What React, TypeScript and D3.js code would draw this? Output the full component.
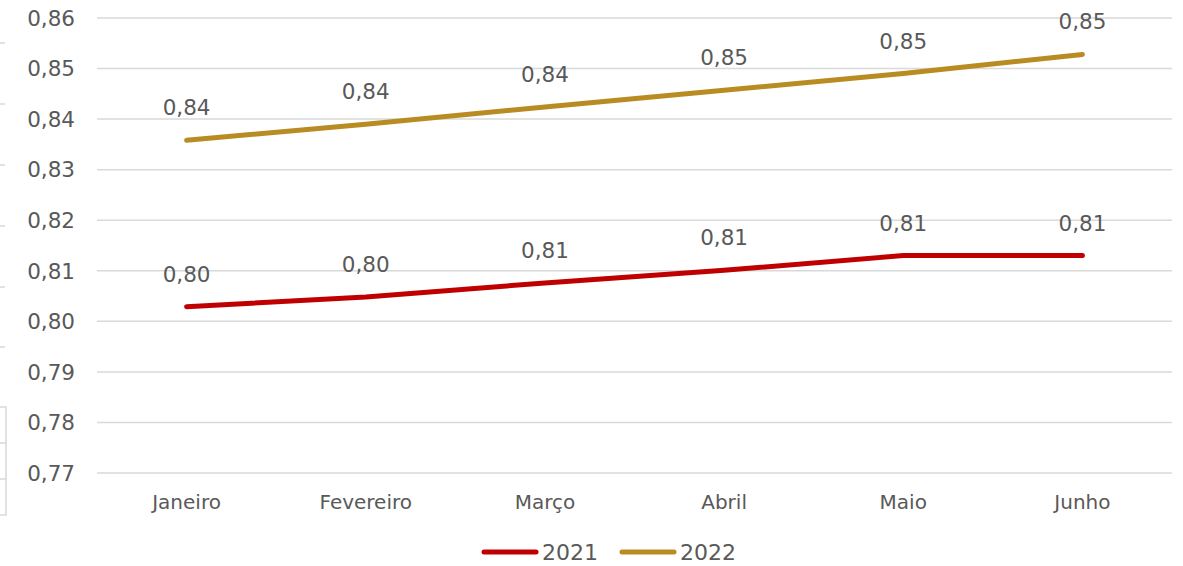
import React, { useEffect, useRef } from 'react';
import * as d3 from 'd3';

const months = ['Janeiro', 'Fevereiro', 'Março', 'Abril', 'Maio', 'Junho'];
const values2021 = [0.8029, 0.8048, 0.8076, 0.8101, 0.813, 0.813];
const values2022 = [0.8358, 0.839, 0.8424, 0.8457, 0.849, 0.8528];
const yTicks = [0.77, 0.78, 0.79, 0.8, 0.81, 0.82, 0.83, 0.84, 0.85, 0.86];
const seriesNames = ['2021', '2022'];
// stray marks from the neighbouring element cut off at the left edge
const edgeTicks = [43, 104, 165, 226, 287, 347];
const edgeBox = [407, 443, 479, 515];

const W = 1183;
const H = 566;

const App = () => {
    const ref = useRef<SVGSVGElement | null>(null);

    useEffect(() => {
        const svg = d3.select(ref.current);
        svg.selectAll('*').remove();

        const margin = { top: 18, right: 11, bottom: 93, left: 97 };
        const font = "'DejaVu Sans', sans-serif";
        const textColor = '#595959';
        const colors = ['#C00000', '#B88C22'];

        const x = d3.scaleBand().domain(months).range([margin.left, W - margin.right]);
        const y = d3.scaleLinear().domain([0.77, 0.86]).range([H - margin.bottom, margin.top]);
        const fmt = (v: number) => d3.format('.2f')(v).replace('.', ',');

        // gridlines
        svg.append('g')
            .selectAll('line')
            .data(yTicks)
            .join('line')
            .attr('x1', margin.left)
            .attr('x2', W - margin.right)
            .attr('y1', d => y(d))
            .attr('y2', d => y(d))
            .attr('stroke', '#D9D9D9')
            .attr('stroke-width', 1.5);

        // y labels
        svg.append('g')
            .selectAll('text')
            .data(yTicks)
            .join('text')
            .attr('x', 75)
            .attr('y', d => y(d))
            .attr('dy', '0.36em')
            .attr('text-anchor', 'end')
            .attr('font-family', font)
            .attr('font-size', 21.5)
            .attr('fill', textColor)
            .text(fmt);

        // x labels
        svg.append('g')
            .selectAll('text')
            .data(months)
            .join('text')
            .attr('x', d => x(d)! + x.bandwidth() / 2)
            .attr('y', 509)
            .attr('text-anchor', 'middle')
            .attr('font-family', font)
            .attr('font-size', 20)
            .attr('fill', textColor)
            .text(d => d);

        const line = d3.line<number>()
            .x((_, i) => x(months[i])! + x.bandwidth() / 2)
            .y(d => y(d));

        [values2021, values2022].forEach((vals, s) => {
            svg.append('path')
                .datum(vals)
                .attr('d', line)
                .attr('fill', 'none')
                .attr('stroke', colors[s])
                .attr('stroke-width', 5)
                .attr('stroke-linecap', 'round')
                .attr('stroke-linejoin', 'round');

            svg.append('g')
                .selectAll('text')
                .data(vals)
                .join('text')
                .attr('x', (_, i) => x(months[i])! + x.bandwidth() / 2)
                .attr('y', d => y(d) - 25)
                .attr('text-anchor', 'middle')
                .attr('font-family', font)
                .attr('font-size', 21.5)
                .attr('fill', textColor)
                .text(fmt);
        });

        // legend
        const legend = svg.append('g').attr('transform', 'translate(482,552)');
        seriesNames.forEach((name, i) => {
            const g = legend.append('g').attr('transform', `translate(${i * 138},0)`);
            g.append('line')
                .attr('x1', 2).attr('x2', 54)
                .attr('y1', 0).attr('y2', 0)
                .attr('stroke', colors[i])
                .attr('stroke-width', 5)
                .attr('stroke-linecap', 'round');
            g.append('text')
                .attr('x', 60)
                .attr('y', 0)
                .attr('dy', '0.36em')
                .attr('font-family', font)
                .attr('font-size', 22)
                .attr('fill', textColor)
                .text(name);
        });

        // edge fragments
        svg.append('g')
            .selectAll('line')
            .data(edgeTicks)
            .join('line')
            .attr('x1', 0).attr('x2', 5)
            .attr('y1', d => d).attr('y2', d => d)
            .attr('stroke', '#D9D9D9')
            .attr('stroke-width', 1.5);
        svg.append('rect')
            .attr('x', -2).attr('y', edgeBox[0])
            .attr('width', 8).attr('height', edgeBox[3] - edgeBox[0])
            .attr('fill', 'none')
            .attr('stroke', '#D9D9D9')
            .attr('stroke-width', 1.5);
        svg.append('g')
            .selectAll('line')
            .data(edgeBox.slice(1, 3))
            .join('line')
            .attr('x1', 0).attr('x2', 6)
            .attr('y1', d => d).attr('y2', d => d)
            .attr('stroke', '#D9D9D9')
            .attr('stroke-width', 1.5);
    }, []);

    return (
        <svg ref={ref} width={W} height={H}
            style={{ position: 'absolute', left: 0, top: 0, background: '#fff' }} />
    );
};

export default App;
